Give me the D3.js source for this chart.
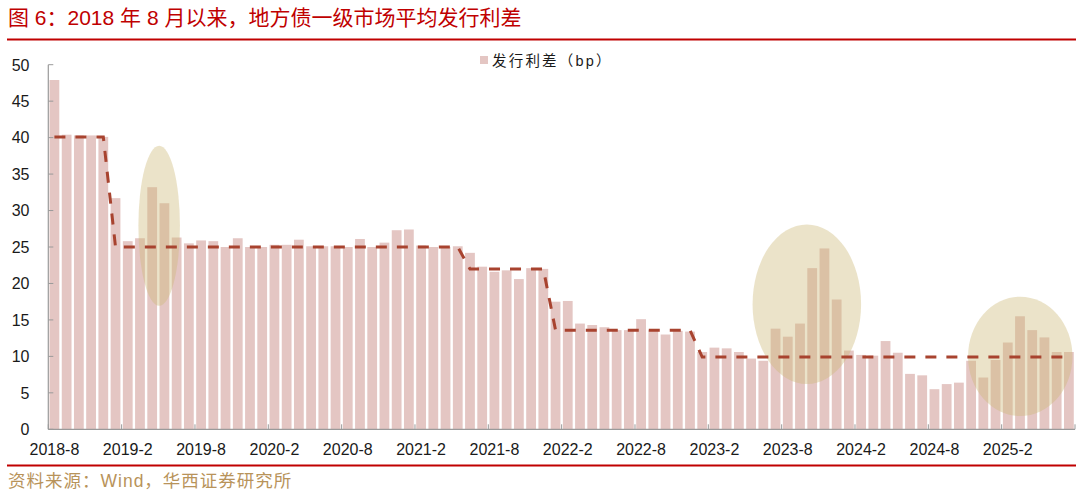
<!DOCTYPE html>
<html>
<head>
<meta charset="utf-8">
<script src="https://cdn.jsdelivr.net/npm/d3@7"></script>
<style>
  html, body { margin: 0; padding: 0; background: #fff; }
  svg { display: block; }
  text { font-family: "Liberation Sans", Arial, "Noto Sans CJK SC", sans-serif; }
</style>
</head>
<body>
<svg id="chart" width="1080" height="498"></svg>
<script>
// ---------- data ----------
const titleText = "图 6：2018 年 8 月以来，地方债一级市场平均发行利差";
const sourceText = "资料来源：Wind，华西证券研究所";
const seriesName = "发行利差（bp）";

// monthly categories 2018-8 ... 2025-7
const categories = [];
for (let y = 2018, m = 8; !(y === 2025 && m === 8); ) {
  categories.push(y + "-" + m);
  m++; if (m > 12) { m = 1; y++; }
}

// issuance spread (bp), one per month
const spreads = [
  47.9, 40.4, 40.3, 40.3, 40.1, 31.7, 25.8, 26.2, 33.2, 31.0,
  26.3, 25.5, 25.9, 25.8, 25.0, 26.2, 25.0, 25.0, 25.3, 25.3,
  26.0, 25.1, 25.1, 25.1, 25.0, 26.1, 25.0, 25.6, 27.3, 27.4,
  25.2, 25.0, 25.0, 25.1, 24.2, 22.3, 21.6, 21.8, 20.6, 22.1,
  22.0, 17.5, 17.6, 14.5, 14.3, 14.0, 13.6, 13.6, 15.1, 13.6,
  13.0, 13.5, 13.4, 10.6, 11.2, 11.1, 10.6, 9.7, 9.4, 13.8,
  12.7, 14.5, 22.1, 24.8, 17.8, 10.8, 10.2, 10.1, 12.1, 10.5,
  7.6, 7.4, 5.5, 6.2, 6.4, 9.4, 7.1, 9.5, 11.9, 15.5,
  13.6, 12.6, 10.6, 10.6
];

// stepped average level (dashed line): level from start month onward
const stepStarts = ["2018-8", "2019-1", "2021-6", "2022-1", "2023-1"];
const stepLevels = [40.1, 25.0, 22.0, 13.6, 9.9];

const xTickLabels = ["2018-8","2019-2","2019-8","2020-2","2020-8","2021-2","2021-8",
                     "2022-2","2022-8","2023-2","2023-8","2024-2","2024-8","2025-2"];
const yTicks = [0, 5, 10, 15, 20, 25, 30, 35, 40, 45, 50];

// highlight ellipses: centre month (fractional index), centre value, radii (months, value)
const hlCenterMonth = [9.07, 62.06, 79.52];
const hlCenterValue = [27.9, 17.15, 10.0];
const hlRadiusMonth = [1.70, 4.44, 4.27];
const hlRadiusValue = [10.97, 10.94, 8.19];

// ---------- layout ----------
const svg = d3.select("#chart");
const X0 = 48.3, X1 = 1075, Y0 = 429.3, Y1 = 64.7;

const x = d3.scaleBand().domain(categories).range([X0, X1]).paddingInner(0.2).paddingOuter(0.1);
const xi = d3.scaleLinear().domain([0, categories.length]).range([X0, X1]);
const y = d3.scaleLinear().domain([0, 50]).range([Y0, Y1]);

// title
svg.append("text").attr("x", 8).attr("y", 24.5).attr("fill", "#c00000")
  .attr("font-size", 21).text(titleText);
svg.append("line").attr("x1", 7).attr("x2", 1076).attr("y1", 39.5).attr("y2", 39.5)
  .attr("stroke", "#c00000").attr("stroke-width", 2);

// bars
svg.append("g").selectAll("rect").data(spreads).join("rect")
  .attr("x", (d, i) => x(categories[i]))
  .attr("width", x.bandwidth())
  .attr("y", d => y(d))
  .attr("height", d => y(0) - y(d))
  .attr("fill", "#e4c6c3");

// highlight ellipses
svg.append("g").selectAll("ellipse").data(hlCenterMonth).join("ellipse")
  .attr("cx", (d) => xi(d))
  .attr("cy", (d, i) => y(hlCenterValue[i]))
  .attr("rx", (d, i) => xi(hlRadiusMonth[i]) - xi(0))
  .attr("ry", (d, i) => y(0) - y(hlRadiusValue[i]))
  .attr("fill", "rgb(205,185,120)")
  .attr("fill-opacity", 0.4);

// stepped dashed line
const startIdx = stepStarts.map(s => categories.indexOf(s));
const stepSeries = categories.map((c, i) => {
  let k = 0;
  for (let j = 0; j < startIdx.length; j++) if (i >= startIdx[j]) k = j;
  return stepLevels[k];
});
const line = d3.line()
  .x((d, i) => x(categories[i]) + x.bandwidth() / 2)
  .y(d => y(d));
svg.append("path").datum(stepSeries).attr("d", line)
  .attr("fill", "none").attr("stroke", "#a8432f").attr("stroke-width", 3)
  .attr("stroke-dasharray", "11,10");

// axes
const axisColor = "#9a9a9a";
svg.append("line").attr("x1", X0).attr("x2", X0).attr("y1", Y1).attr("y2", Y0)
  .attr("stroke", axisColor).attr("stroke-width", 1.2);
svg.append("line").attr("x1", X0).attr("x2", X1).attr("y1", Y0).attr("y2", Y0)
  .attr("stroke", axisColor).attr("stroke-width", 1.2);

const yAx = svg.append("g");
yAx.selectAll("line").data(yTicks).join("line")
  .attr("x1", X0).attr("x2", X0 + 5).attr("y1", d => y(d)).attr("y2", d => y(d))
  .attr("stroke", axisColor).attr("stroke-width", 1);
yAx.selectAll("text").data(yTicks).join("text")
  .attr("x", 29.5).attr("y", d => y(d) + 5.8).attr("text-anchor", "end")
  .attr("font-size", 16).attr("fill", "#1a1a1a").text(d => d);

const xTickIdx = d3.range(0, categories.length + 1, 6);
svg.append("g").selectAll("line").data(xTickIdx).join("line")
  .attr("x1", d => xi(d)).attr("x2", d => xi(d)).attr("y1", Y0).attr("y2", Y0 - 5)
  .attr("stroke", axisColor).attr("stroke-width", 1);
svg.append("g").selectAll("text").data(xTickLabels).join("text")
  .attr("x", d => x(d) + x.bandwidth() / 2).attr("y", 455)
  .attr("text-anchor", "middle").attr("font-size", 16).attr("fill", "#1a1a1a").text(d => d);

// legend
svg.append("rect").attr("x", 480).attr("y", 56).attr("width", 8).attr("height", 8).attr("fill", "#e4c6c3");
svg.append("text").attr("x", 492).attr("y", 65.5).attr("font-size", 14.5)
  .attr("letter-spacing", 2.2).attr("fill", "#1a1a1a").text(seriesName);

// source
svg.append("line").attr("x1", 7).attr("x2", 1076).attr("y1", 465.5).attr("y2", 465.5)
  .attr("stroke", "#c00000").attr("stroke-width", 2);
svg.append("text").attr("x", 8).attr("y", 487).attr("font-size", 17.5)
  .attr("letter-spacing", 1).attr("fill", "#b8935a").text(sourceText);
</script>
</body>
</html>
